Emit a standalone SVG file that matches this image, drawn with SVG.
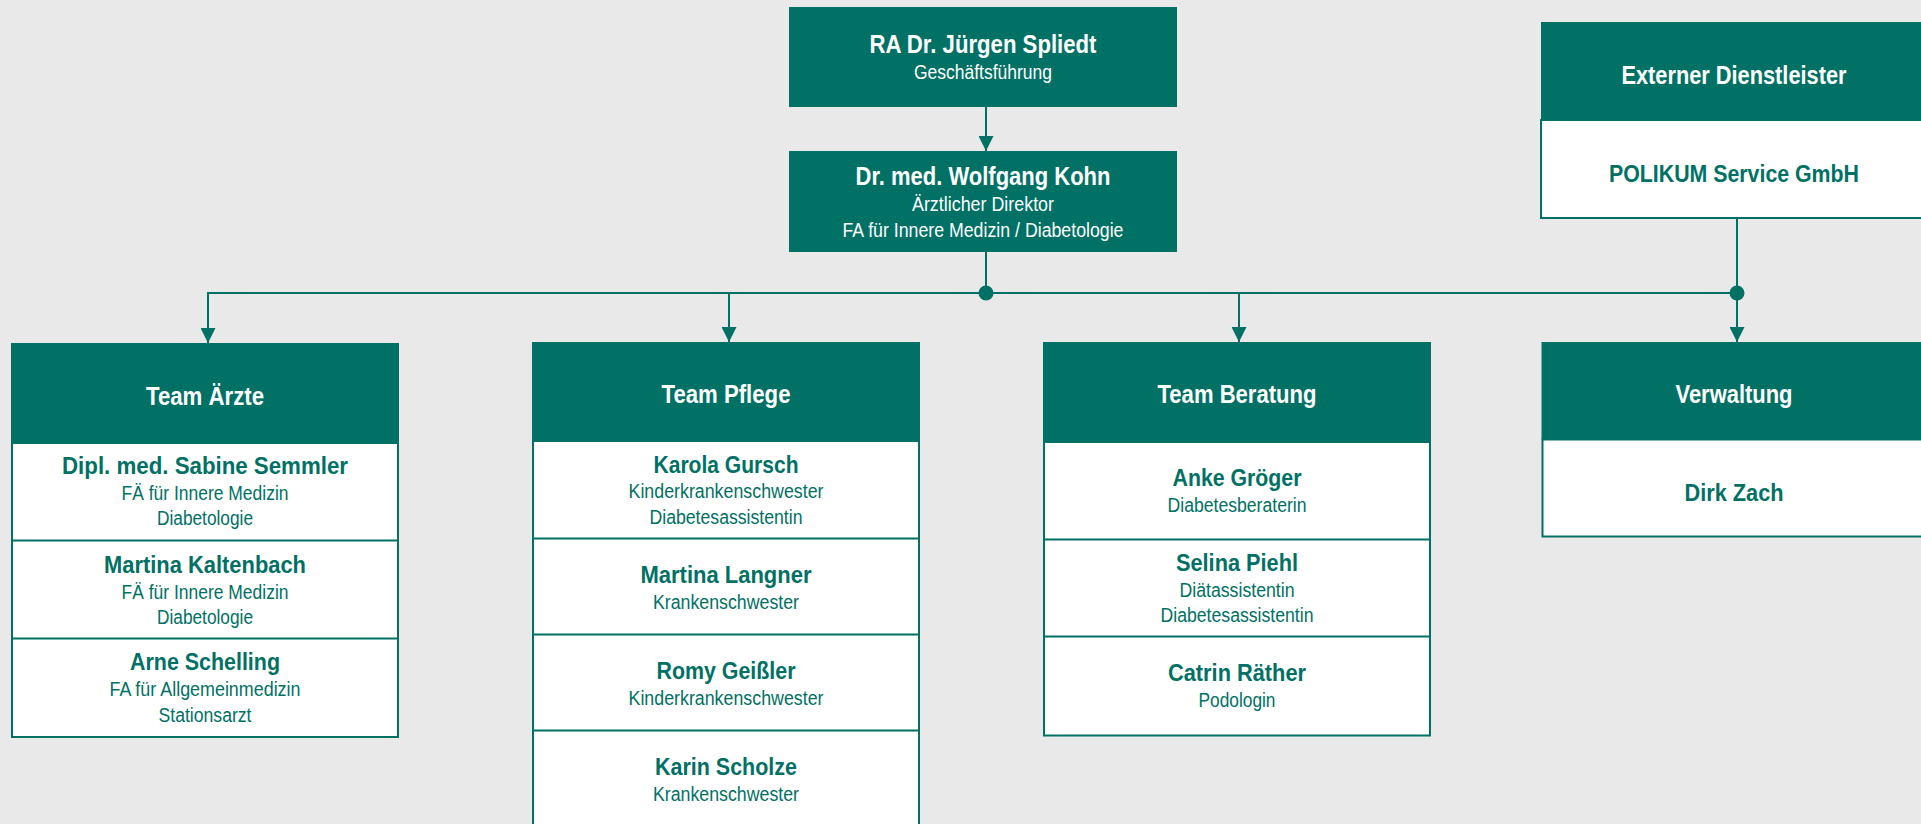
<svg xmlns="http://www.w3.org/2000/svg" width="1921" height="824" viewBox="0 0 1921 824">
<defs>
<style>
text{font-family:"Liberation Sans","Arial",sans-serif;text-anchor:middle}
.hd{fill:#007164}
.bd{fill:#ffffff;stroke:#007164;stroke-width:2}
.sep{stroke:#007164;stroke-width:2}
.t1{fill:#ffffff;font-weight:bold;font-size:25.5px}
.t2{fill:#ffffff;font-size:19.5px}
.th{fill:#ffffff;font-weight:bold;font-size:25.5px}
.n{fill:#007164;font-weight:bold;font-size:24px}
.s{fill:#007164;font-size:19.5px}
.ln{stroke:#007164;stroke-width:2;fill:none}
</style>
<marker id="arr" markerUnits="userSpaceOnUse" markerWidth="15" markerHeight="15" refX="15" refY="7.5" orient="auto" viewBox="0 0 15 15">
<path d="M0,0 L15,7.5 L0,15 z" fill="#007164"/>
</marker>
</defs>
<rect width="1921" height="824" fill="#e9e9e9"/>

<g id="connectors">
<line class="ln" x1="986" y1="107" x2="986" y2="151" marker-end="url(#arr)"/>
<line class="ln" x1="986" y1="252" x2="986" y2="293"/>
<line class="ln" x1="1737" y1="218" x2="1737" y2="293"/>
<polyline class="ln" points="208,300 208,293 1737,293"/>
<line class="ln" x1="208" y1="293" x2="208" y2="343" marker-end="url(#arr)"/>
<line class="ln" x1="729" y1="293" x2="729" y2="342" marker-end="url(#arr)"/>
<line class="ln" x1="1239" y1="293" x2="1239" y2="342" marker-end="url(#arr)"/>
<line class="ln" x1="1737" y1="293" x2="1737" y2="342" marker-end="url(#arr)"/>
<circle cx="986" cy="293" r="7.5" fill="#007164"/>
<circle cx="1737" cy="293" r="7.5" fill="#007164"/>
</g>

<g id="gf">
<rect class="hd" x="789" y="7" width="388" height="100"/>
<text class="t1" x="983" y="53" textLength="227" lengthAdjust="spacingAndGlyphs">RA Dr. Jürgen Spliedt</text>
<text class="t2" x="983" y="79" textLength="138" lengthAdjust="spacingAndGlyphs">Geschäftsführung</text>
</g>

<g id="ad">
<rect class="hd" x="789" y="151" width="388" height="101"/>
<text class="t1" x="983" y="185" textLength="255" lengthAdjust="spacingAndGlyphs">Dr. med. Wolfgang Kohn</text>
<text class="t2" x="983" y="211" textLength="142" lengthAdjust="spacingAndGlyphs">Ärztlicher Direktor</text>
<text class="t2" x="983" y="237" textLength="281" lengthAdjust="spacingAndGlyphs">FA für Innere Medizin / Diabetologie</text>
</g>

<g id="ext">
<rect class="bd" x="1541" y="120" width="390" height="98"/>
<rect class="hd" x="1541" y="22" width="390" height="98"/>
<text class="th" x="1734" y="84" textLength="225" lengthAdjust="spacingAndGlyphs">Externer Dienstleister</text>
<text class="n" x="1734" y="182" textLength="250" lengthAdjust="spacingAndGlyphs">POLIKUM Service GmbH</text>
</g>

<g id="aerzte">
<rect class="bd" x="12" y="443" width="386" height="294"/>
<rect class="hd" x="11" y="343" width="388" height="100"/>
<line class="sep" x1="12" y1="540.5" x2="398" y2="540.5"/>
<line class="sep" x1="12" y1="638.5" x2="398" y2="638.5"/>
<text class="th" x="205" y="405" textLength="118" lengthAdjust="spacingAndGlyphs">Team Ärzte</text>
<text class="n" x="205" y="474" textLength="286" lengthAdjust="spacingAndGlyphs">Dipl. med. Sabine Semmler</text>
<text class="s" x="205" y="500" textLength="167" lengthAdjust="spacingAndGlyphs">FÄ für Innere Medizin</text>
<text class="s" x="205" y="525" textLength="96" lengthAdjust="spacingAndGlyphs">Diabetologie</text>
<text class="n" x="205" y="573" textLength="202" lengthAdjust="spacingAndGlyphs">Martina Kaltenbach</text>
<text class="s" x="205" y="599" textLength="167" lengthAdjust="spacingAndGlyphs">FÄ für Innere Medizin</text>
<text class="s" x="205" y="624" textLength="96" lengthAdjust="spacingAndGlyphs">Diabetologie</text>
<text class="n" x="205" y="670" textLength="150" lengthAdjust="spacingAndGlyphs">Arne Schelling</text>
<text class="s" x="205" y="696" textLength="191" lengthAdjust="spacingAndGlyphs">FA für Allgemeinmedizin</text>
<text class="s" x="205" y="722" textLength="93" lengthAdjust="spacingAndGlyphs">Stationsarzt</text>
</g>

<g id="pflege">
<rect class="bd" x="533" y="441" width="386" height="400"/>
<rect class="hd" x="532" y="342" width="388" height="99"/>
<line class="sep" x1="533" y1="538.5" x2="919" y2="538.5"/>
<line class="sep" x1="533" y1="634.5" x2="919" y2="634.5"/>
<line class="sep" x1="533" y1="730.5" x2="919" y2="730.5"/>
<text class="th" x="726" y="403" textLength="129" lengthAdjust="spacingAndGlyphs">Team Pflege</text>
<text class="n" x="726" y="473" textLength="145" lengthAdjust="spacingAndGlyphs">Karola Gursch</text>
<text class="s" x="726" y="498" textLength="195" lengthAdjust="spacingAndGlyphs">Kinderkrankenschwester</text>
<text class="s" x="726" y="524" textLength="153" lengthAdjust="spacingAndGlyphs">Diabetesassistentin</text>
<text class="n" x="726" y="583" textLength="171" lengthAdjust="spacingAndGlyphs">Martina Langner</text>
<text class="s" x="726" y="609" textLength="146" lengthAdjust="spacingAndGlyphs">Krankenschwester</text>
<text class="n" x="726" y="679" textLength="139" lengthAdjust="spacingAndGlyphs">Romy Geißler</text>
<text class="s" x="726" y="705" textLength="195" lengthAdjust="spacingAndGlyphs">Kinderkrankenschwester</text>
<text class="n" x="726" y="775" textLength="142" lengthAdjust="spacingAndGlyphs">Karin Scholze</text>
<text class="s" x="726" y="801" textLength="146" lengthAdjust="spacingAndGlyphs">Krankenschwester</text>
</g>

<g id="beratung">
<rect class="bd" x="1044" y="442" width="386" height="293.5"/>
<rect class="hd" x="1043" y="342" width="388" height="100"/>
<line class="sep" x1="1044" y1="539.5" x2="1430" y2="539.5"/>
<line class="sep" x1="1044" y1="636.5" x2="1430" y2="636.5"/>
<text class="th" x="1237" y="403" textLength="159" lengthAdjust="spacingAndGlyphs">Team Beratung</text>
<text class="n" x="1237" y="486" textLength="129" lengthAdjust="spacingAndGlyphs">Anke Gröger</text>
<text class="s" x="1237" y="512" textLength="139" lengthAdjust="spacingAndGlyphs">Diabetesberaterin</text>
<text class="n" x="1237" y="571" textLength="122" lengthAdjust="spacingAndGlyphs">Selina Piehl</text>
<text class="s" x="1237" y="597" textLength="115" lengthAdjust="spacingAndGlyphs">Diätassistentin</text>
<text class="s" x="1237" y="622" textLength="153" lengthAdjust="spacingAndGlyphs">Diabetesassistentin</text>
<text class="n" x="1237" y="681" textLength="138" lengthAdjust="spacingAndGlyphs">Catrin Räther</text>
<text class="s" x="1237" y="707" textLength="77" lengthAdjust="spacingAndGlyphs">Podologin</text>
</g>

<g id="verwaltung">
<rect class="bd" x="1542.5" y="439.5" width="390" height="97"/>
<rect class="hd" x="1541.5" y="342" width="390" height="97.5"/>
<text class="th" x="1734" y="403" textLength="117" lengthAdjust="spacingAndGlyphs">Verwaltung</text>
<text class="n" x="1734" y="501" textLength="99" lengthAdjust="spacingAndGlyphs">Dirk Zach</text>
</g>
</svg>
